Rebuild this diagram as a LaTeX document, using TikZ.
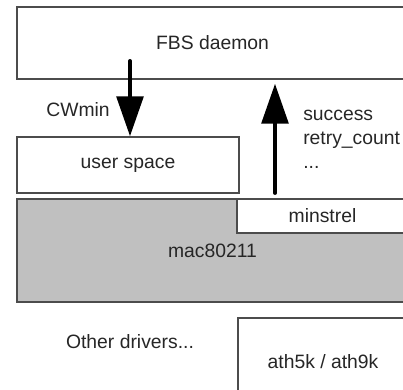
\documentclass[tikz,border=0pt]{standalone}
\usepackage{fontspec}
\setmainfont{Liberation Sans}
\usetikzlibrary{arrows.meta}

\begin{document}
\begin{tikzpicture}[x=0.75pt, y=-0.75pt,
    box/.style={draw=black!70, line width=1.1pt, fill=white, inner sep=0pt,
        font=\fontsize{14.5}{18}\selectfont, text=black!85},
    lbl/.style={inner sep=0pt, font=\fontsize{14.5}{18}\selectfont, text=black!85},
    bigarrow/.style={line width=3pt, line cap=round, -{Triangle[width=20pt,length=30pt]}}]
            \useasboundingbox (0,0) rectangle (403,389);
            \clip (0,0) rectangle (403,389);

            % daemon
            \node[box, minimum width=293.25pt, minimum height=54pt] (daemon) at (212.5,43) {FBS daemon};

            % user space
            \node[box, minimum width=166.5pt, minimum height=42pt] (userspace) at (128,165) {user space};

            % kernel
            \node[box, fill={rgb,255:red,192;green,192;blue,192}, minimum width=293.25pt, minimum height=77.25pt] (mac) at (212.5,250.5) {mac80211};
            \node[box, minimum width=128.25pt, minimum height=25.5pt] (minstrel) at (322.5,216) {minstrel};

            % drivers
            \node[lbl] (others) at (130,342) {Other drivers...};
            \node[box, minimum width=127.5pt, minimum height=66pt] (ath) at (323,362) {ath5k / ath9k};

            % arrows
            \coordinate (cwtop) at (130,61);
            \draw[bigarrow] (cwtop) -- (cwtop |- userspace.north);
            \node[lbl] (cwmin) at (78,110) {CWmin};

            \coordinate (upx) at (275,0);
            \draw[bigarrow, shorten <=4pt, shorten >=3pt] (upx |- mac.north) -- (upx |- daemon.south);
            \node[lbl, align=left, anchor=west] (stats) at (303,139) {success\\retry\_count\\...};
        \end{tikzpicture}
\end{document}
